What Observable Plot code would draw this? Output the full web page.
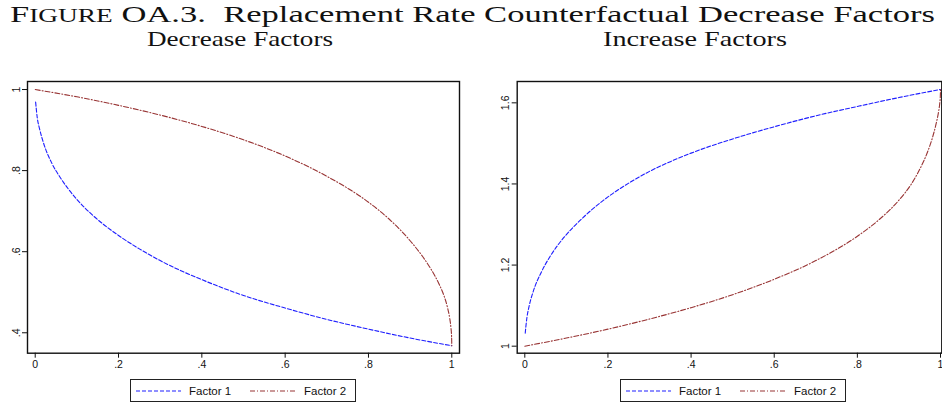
<!DOCTYPE html>
<html><head><meta charset="utf-8">
<script src="https://cdn.jsdelivr.net/npm/d3@7"></script>
<script src="https://cdn.jsdelivr.net/npm/@observablehq/plot@0.6"></script>
<style>
body{margin:0;background:#fff;}
#wrap{position:relative;width:942px;height:402px;overflow:hidden;background:#fff;}
#wrap > *{position:absolute;}
</style></head><body><div id="wrap"></div>
<script>
// ---- tick values / labels ----
const xTicks = [0, 0.2, 0.4, 0.6, 0.8, 1];
const xTickLabels = ["0", ".2", ".4", ".6", ".8", "1"];
const decTicks = [0.4, 0.6, 0.8, 1];
const decTickLabels = [".4", ".6", ".8", "1"];
const incTicks = [1, 1.2, 1.4, 1.6];
const incTickLabels = ["1", "1.2", "1.4", "1.6"];
const seriesNames = ["Factor 1", "Factor 2"];
const panelTitles = ["Decrease Factors", "Increase Factors"];

// ---- Decrease factors ----
const decF1x = [0.001, 0.005, 0.01, 0.02, 0.04, 0.06, 0.08, 0.10, 0.14, 0.20, 0.25, 0.30, 0.35, 0.40, 0.50, 0.60, 0.70, 0.80, 0.90, 1.00];
const decF1  = [0.969, 0.930, 0.905, 0.868, 0.818, 0.783, 0.754, 0.729, 0.688, 0.640, 0.607, 0.578, 0.553, 0.531, 0.492, 0.461, 0.433, 0.409, 0.387, 0.368];
const decF2x = [0, 0.1, 0.2, 0.3, 0.4, 0.5, 0.6, 0.7, 0.8, 0.85, 0.9, 0.93, 0.95, 0.97, 0.98, 0.99, 0.995, 0.998, 0.9995, 1.0];
const decF2  = [1.000, 0.982, 0.961, 0.937, 0.909, 0.876, 0.836, 0.786, 0.722, 0.680, 0.627, 0.588, 0.557, 0.519, 0.495, 0.461, 0.436, 0.412, 0.391, 0.368];

// ---- Increase factors ----
const incF1x = [0.001, 0.005, 0.01, 0.02, 0.04, 0.06, 0.08, 0.10, 0.14, 0.20, 0.25, 0.30, 0.35, 0.40, 0.50, 0.60, 0.70, 0.80, 0.90, 1.00];
const incF1  = [1.032, 1.070, 1.097, 1.134, 1.183, 1.220, 1.250, 1.275, 1.317, 1.368, 1.402, 1.431, 1.455, 1.476, 1.511, 1.541, 1.568, 1.591, 1.613, 1.633];
const incF2x = [0, 0.1, 0.2, 0.3, 0.4, 0.5, 0.6, 0.7, 0.8, 0.85, 0.9, 0.93, 0.95, 0.97, 0.98, 0.99, 0.995, 0.998, 0.9995, 1.0];
const incF2  = [1.000, 1.020, 1.042, 1.067, 1.095, 1.127, 1.165, 1.211, 1.271, 1.310, 1.360, 1.400, 1.436, 1.482, 1.512, 1.551, 1.576, 1.597, 1.615, 1.632];

const rows = (xs, ys, s) => xs.map((x, i) => ({x, y: ys[i], series: s}));
const C1 = "#1f1fff", C2 = "#983434";

function panel(f1, f2, ticks, labels, yDomain, xDomain, width, ml, mr) {
  return Plot.plot({
    width, height: 300,
    marginTop: 11, marginBottom: 17.3, marginLeft: ml, marginRight: mr,
    style: {fontFamily: "'Liberation Sans', Arial, sans-serif", fontSize: "10.5px", color: "#111", background: "white", overflow: "visible"},
    x: {domain: xDomain},
    y: {domain: yDomain},
    marks: [
      Plot.line(f1, {x: "x", y: "y", stroke: C1, strokeWidth: 1.1, strokeDasharray: "4,2", curve: "monotone-x"}),
      Plot.line(f2, {x: "x", y: "y", stroke: C2, strokeWidth: 1.1, strokeDasharray: "5,2,1,2", curve: "monotone-x"}),
      Plot.frame({stroke: "#111", strokeWidth: 1.4}),
      Plot.axisX({ticks: xTicks, tickSize: 5, tickPadding: 2, label: null, tickFormat: d => xTickLabels[xTicks.indexOf(d)]}),
      Plot.axisY({ticks, tickSize: 5, tickRotate: -90, tickPadding: 3, label: null, tickFormat: d => labels[ticks.indexOf(d)]})
    ]
  });
}

const wrap = document.getElementById("wrap");
const left = panel(rows(decF1x, decF1, seriesNames[0]), rows(decF2x, decF2, seriesNames[1]),
  decTicks, decTickLabels, [0.3496, 1.0198], [-0.0185, 1.0185], 470, 27, 11);
left.style.left = "0px"; left.style.top = "70px";
wrap.appendChild(left);
const right = panel(rows(incF1x, incF1, seriesNames[0]), rows(incF2x, incF2, seriesNames[1]),
  incTicks, incTickLabels, [0.9827, 1.6526], [-0.0183, 1.0031], 462, 36.7, 0.7);
right.style.left = "480px"; right.style.top = "70px";
wrap.appendChild(right);

// ---- titles & legends overlay ----
const NS = "http://www.w3.org/2000/svg";
const ov = document.createElementNS(NS, "svg");
ov.setAttribute("width", 942); ov.setAttribute("height", 402);
ov.style.left = "0px"; ov.style.top = "0px"; ov.style.pointerEvents = "none";
function legend(x0) {
  return `<rect x="${x0 + 0.5}" y="379.5" width="225" height="22" fill="white" stroke="#222" stroke-width="1"/>
  <line x1="${x0 + 6}" x2="${x0 + 51}" y1="391" y2="391" stroke="${C1}" stroke-width="1.1" stroke-dasharray="4,2"/>
  <text x="${x0 + 59}" y="395.3" font-family="Liberation Sans, Arial, sans-serif" font-size="11.5" fill="#111">${seriesNames[0]}</text>
  <line x1="${x0 + 120}" x2="${x0 + 166}" y1="391" y2="391" stroke="${C2}" stroke-width="1.1" stroke-dasharray="5,2,1,2"/>
  <text x="${x0 + 174}" y="395.3" font-family="Liberation Sans, Arial, sans-serif" font-size="11.5" fill="#111">${seriesNames[1]}</text>`;
}
ov.innerHTML = `
<text x="10" y="22" font-family="Liberation Serif, serif" font-size="24" fill="#111" textLength="925" lengthAdjust="spacingAndGlyphs">F<tspan font-size="19">IGURE</tspan> OA.3.\u00a0 Replacement Rate Counterfactual Decrease Factors</text>
<text x="147" y="46" font-family="Liberation Serif, serif" font-size="22" fill="#111" textLength="186" lengthAdjust="spacingAndGlyphs">${panelTitles[0]}</text>
<text x="603" y="46" font-family="Liberation Serif, serif" font-size="22" fill="#111" textLength="184" lengthAdjust="spacingAndGlyphs">${panelTitles[1]}</text>
${legend(130)}
${legend(620)}
`;
wrap.appendChild(ov);
</script></body></html>
